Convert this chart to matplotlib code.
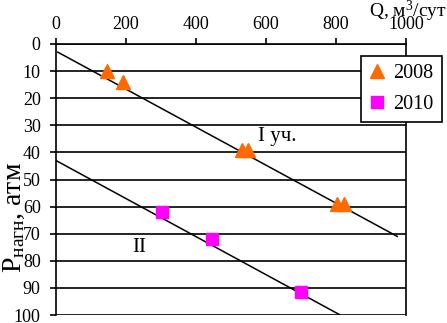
import matplotlib
matplotlib.use("Agg")
import matplotlib.pyplot as plt

# --- data ---
q_2008 = [145, 190, 530, 548, 803, 823]
p_2008 = [10, 14, 39, 39, 59, 59]
q_2010 = [303, 446, 700]
p_2010 = [62, 72, 91.5]

# trend lines (endpoints)
line1_q = [5, 975]
line1_p = [3, 71]
line2_q = [0, 812]
line2_p = [43, 100]

x_ticks = [0, 200, 400, 600, 800, 1000]
y_ticks = list(range(0, 101, 10))

plt.rcParams['font.family'] = ['Liberation Serif', 'DejaVu Serif']
plt.rcParams['mathtext.fontset'] = 'custom'
plt.rcParams['mathtext.rm'] = 'Liberation Serif'
plt.rcParams['mathtext.it'] = 'Liberation Serif'

W, H = 447, 323
fig = plt.figure(figsize=(W / 100, H / 100), dpi=100)
ax = fig.add_axes([56 / W, 1 - 315 / H, 350 / W, 271 / H])

ax.plot(line1_q, line1_p, color='black', lw=1.1)
ax.plot(line2_q, line2_p, color='black', lw=1.1)
ax.plot(q_2008, p_2008, '^', color='#FF6A00', ms=10, mec='#FF6A00', ls='none', label='2008')
ax.plot(q_2010, p_2010, 's', color='#FF00FF', ms=9, mec='#FF00FF', ls='none', label='2010')

ax.set_xlim(0, 1000)
ax.set_ylim(100, 0)
ax.set_xticks(x_ticks)
ax.set_yticks(y_ticks)
ax.xaxis.tick_top()
ax.tick_params(axis='both', direction='out', length=4, width=1.2, colors='black', labelsize=13)
ax.tick_params(axis='x', pad=4)
ax.tick_params(axis='y', pad=7)
for yv in y_ticks:
    ax.axhline(yv, color='black', lw=1.2, zorder=0)
for s in ax.spines.values():
    s.set_linewidth(1.2)
ax.spines['bottom'].set_visible(False)

ax.text(577, 34, 'I уч.', fontsize=15, va='center', ha='left')
ax.text(217, 75, 'II', fontsize=15, va='center', ha='left')

fig.text(14 / W, 1 - 218 / H, r'$\mathrm{P}_{\mathrm{нагн}}$, атм', rotation=90,
         fontsize=20, ha='center', va='center')
fig.text(369 / W, 1 - 11 / H, 'Q, м$^3$/сут', fontsize=14, ha='left', va='center')

leg = fig.legend(loc='upper left', bbox_to_anchor=(361 / W, 1 - 56 / H),
                 bbox_transform=fig.transFigure, fontsize=14.5, frameon=True,
                 fancybox=False, edgecolor='black', framealpha=1,
                 handlelength=0.8, handletextpad=0.4, borderpad=0.4,
                 labelspacing=0.6, borderaxespad=0)
leg.get_frame().set_linewidth(1.2)

fig.savefig('out.png', dpi=100)
